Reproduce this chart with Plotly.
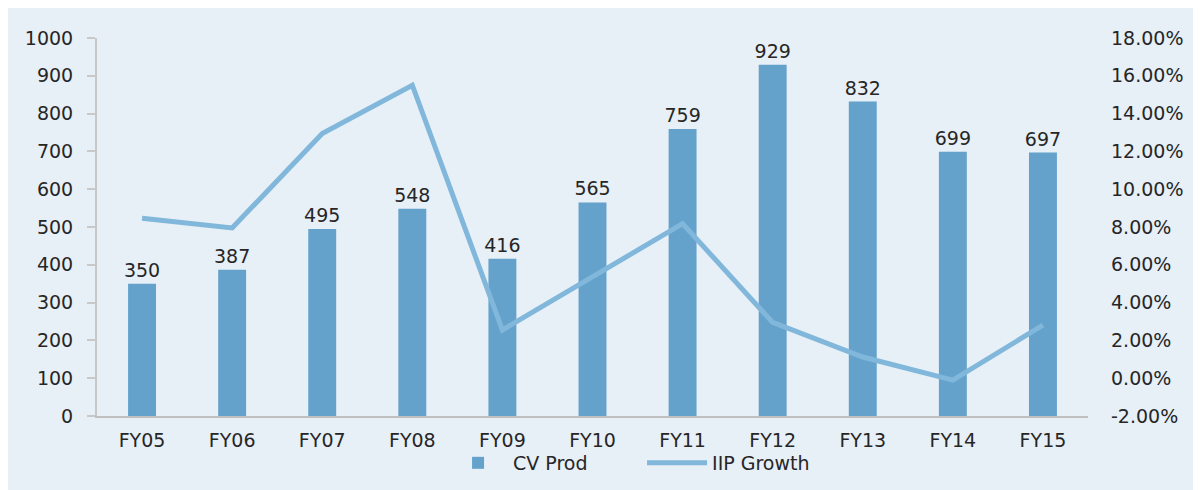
import plotly.graph_objects as go

categories = ["FY05", "FY06", "FY07", "FY08", "FY09", "FY10", "FY11", "FY12", "FY13", "FY14", "FY15"]
cv_prod = [350, 387, 495, 548, 416, 565, 759, 929, 832, 699, 697]
iip_growth = [0.0846, 0.0795, 0.1295, 0.1550, 0.0255, 0.0535, 0.0818, 0.0295, 0.0112, -0.0010, 0.0281]
y2_tickvals = [-0.02, 0.0, 0.02, 0.04, 0.06, 0.08, 0.10, 0.12, 0.14, 0.16, 0.18]
y2_ticktext = ["-2.00%", "0.00%", "2.00%", "4.00%", "6.00%", "8.00%", "10.00%", "12.00%", "14.00%", "16.00%", "18.00%"]

FONT = "DejaVu Sans"
TXT = "#262626"
BAR = "#65a2cb"
LINE = "#80b7da"
BG = "#e7eff7"

fig = go.Figure()
fig.add_trace(go.Bar(
    x=categories, y=cv_prod, name="CV Prod", marker=dict(color=BAR, line=dict(width=0)),
    text=[str(v) for v in cv_prod], textposition="outside", cliponaxis=False,
    constraintext="none",
    textfont=dict(family=FONT, size=19, color=TXT), yaxis="y",
))
fig.add_trace(go.Scatter(
    x=categories, y=iip_growth, name="IIP Growth", mode="lines",
    line=dict(color=LINE, width=5), yaxis="y2",
))

fig.update_layout(
    width=1193, height=482,
    margin=dict(l=89, r=113, t=30, b=74, autoexpand=False),
    paper_bgcolor=BG, plot_bgcolor="rgba(0,0,0,0)",
    font=dict(family=FONT, size=19, color=TXT),
    bargap=0.69,
    showlegend=True,
    legend=dict(orientation="h", x=0.55, xanchor="center", y=-0.074, yanchor="top",
                bgcolor="rgba(0,0,0,0)", font=dict(family=FONT, size=19, color=TXT),
                itemwidth=60, tracegroupgap=0, entrywidth=124, entrywidthmode="pixels"),
    xaxis=dict(showline=True, linecolor="#bfbfbf", linewidth=2, ticks="", automargin=False,
               ticklabelstandoff=6,
               tickfont=dict(family=FONT, size=19, color=TXT), showgrid=False),
    yaxis=dict(range=[0, 1000], dtick=100, showline=True, linecolor="#c8c8c8", linewidth=2,
               ticks="outside", ticklen=8, tickcolor="#c8c8c8", tickwidth=2,
               showgrid=False, zeroline=False, automargin=False, ticklabelstandoff=10,
               tickfont=dict(family=FONT, size=19, color=TXT)),
    yaxis2=dict(range=[-0.02, 0.18], tickvals=y2_tickvals, ticktext=y2_ticktext,
                overlaying="y", side="right", automargin=False,
                showline=False, showgrid=False, zeroline=False, ticks="",
                ticklabelstandoff=22,
                tickfont=dict(family=FONT, size=19, color=TXT)),
)

fig.write_html("out.html")
